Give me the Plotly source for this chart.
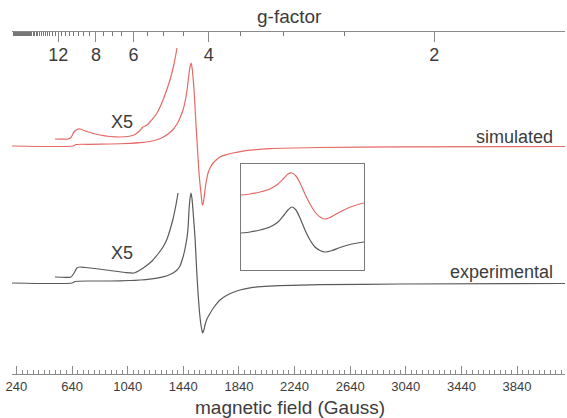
import plotly.graph_objects as go

# ---- spectra: magnetic field (G) and derivative intensity (a.u.) ----
sim_field = [208, 647, 668, 769, 913, 1057, 1130, 1200, 1250, 1294, 1330, 1366, 1395,
             1416, 1438, 1452, 1467, 1474, 1481, 1488, 1497, 1505, 1511, 1517, 1524,
             1531, 1538, 1545, 1553, 1560, 1567, 1572, 1577, 1582, 1589, 1596, 1607,
             1618, 1636, 1654, 1680, 1704, 1750, 1797, 1850, 1920, 2063, 2400, 3000, 4185]
sim_int = [0, 0, 1.5, 1.7, 2, 2.6, 3.3, 4.5, 6.3, 8.7, 12, 16.5, 22,
           28, 36, 44, 56, 64, 72, 79, 83, 76, 67, 56, 40,
           22, 6, -10, -27, -38, -47, -54, -59, -58, -52, -44, -34,
           -27, -21, -17, -13.5, -11, -8.6, -7, -5.6, -4.2, -2.6, -1.5, -0.9, -0.5]

sim_x5_field = [517, 611, 632, 654, 675, 697, 726, 769, 841, 913, 985, 1042, 1085,
                1121, 1150, 1179, 1200, 1251, 1294, 1344, 1373, 1395]
sim_x5_int = [7, 7, 8.5, 14, 16.5, 17, 15.5, 13.5, 11, 9.5, 9, 9.5, 11,
              14.5, 19, 21, 24, 33, 46, 66, 82, 98]

exp_field = [208, 640, 661, 769, 913, 1057, 1130, 1200, 1250, 1300, 1340, 1366, 1395,
             1416, 1438, 1452, 1467, 1474, 1481, 1488, 1495, 1502, 1510, 1524, 1536,
             1545, 1555, 1565, 1572, 1579, 1588, 1596, 1610, 1632, 1661, 1704, 1750,
             1800, 1848, 1920, 2000, 2135, 2423, 2998, 4185]
exp_int = [0, 0, 1.5, 2, 2, 2.5, 3, 3.8, 4.8, 6.3, 8.3, 10, 13,
           17, 26, 34, 46, 55, 73, 84, 90, 85, 72, 46, 13,
           -8, -27, -40, -46, -50, -47, -42, -36, -30.5, -24, -17, -12.5,
           -9.3, -7, -4.8, -3.6, -2.6, -1.7, -1, -0.5]

exp_x5_field = [517, 632, 654, 675, 697, 733, 805, 913, 1021, 1085, 1129, 1172, 1215,
                1258, 1294, 1323, 1344, 1366, 1387, 1402]
exp_x5_int = [6, 6, 10, 15, 16, 15.5, 14.5, 12.5, 10.5, 10, 13, 17, 22,
              29, 36, 44, 53, 64, 78, 90]

# ---- inset (g ~ 2 region) ----
inset_field = [2800, 2866, 2939, 3012, 3071, 3115, 3144, 3173, 3202, 3232, 3268, 3305,
               3341, 3378, 3415, 3451, 3510, 3568, 3634, 3700]
inset_sim = [75, 76, 78, 81, 86, 92, 96, 97, 94, 87, 76, 66,
             58, 53, 51, 52.5, 57, 61, 64.5, 67]
inset_exp_field = [2800, 2866, 2939, 3012, 3071, 3115, 3144, 3173, 3202, 3232, 3268, 3305,
                   3341, 3378, 3415, 3466, 3524, 3598, 3700]
inset_exp = [37, 38, 40, 43, 48, 55, 60, 63, 60, 52, 40, 30,
             23, 19.5, 18, 19.5, 22.5, 25.5, 28]

# ---- axes ticks ----
field_ticks = [240, 640, 1040, 1440, 1840, 2240, 2640, 3040, 3440, 3840]
g_labels = [2, 4, 6, 8, 12]
g_minor = [x / 2 for x in range(5, 61) if x / 2 not in g_labels]
G_CONST = 6490.0  # g * B (Gauss) for the microwave frequency used

SIM_OFFSET = 228
EXP_OFFSET = 91

RED = "#e36a66"
DARK = "#5a5a5a"
AXIS = "#8a8a8a"
TEXT = "#3c3c3c"
FONT = "Liberation Sans, Arial, sans-serif"

fig = go.Figure()

def add(x, y, off, color, xa="x", ya="y"):
    fig.add_trace(go.Scatter(x=x, y=[v + off for v in y], mode="lines",
                             line=dict(color=color, width=1.2, shape="spline", smoothing=0.6),
                             xaxis=xa, yaxis=ya, showlegend=False, hoverinfo="skip"))

add(sim_field, sim_int, SIM_OFFSET, RED)
add(sim_x5_field, sim_x5_int, SIM_OFFSET, RED)
add(exp_field, exp_int, EXP_OFFSET, DARK)
add(exp_x5_field, exp_x5_int, EXP_OFFSET, DARK)
add(inset_field, inset_sim, 0, RED, "x3", "y3")
add(inset_exp_field, inset_exp, 0, DARK, "x3", "y3")

# invisible trace to activate the g-factor axis
fig.add_trace(go.Scatter(x=[1000], y=[0], mode="markers", marker=dict(opacity=0),
                         xaxis="x2", yaxis="y", showlegend=False, hoverinfo="skip"))

xr = [208, 4185]
L, R, T, B = 12, 2, 32, 44
W, H = 567, 418

fig.update_layout(
    width=W, height=H,
    margin=dict(l=L, r=R, t=T, b=B),
    paper_bgcolor="white", plot_bgcolor="white",
    font=dict(family=FONT, color=TEXT),
    xaxis=dict(range=xr, showgrid=False, zeroline=False, showline=True,
               linecolor=AXIS, linewidth=1.3,
               ticks="inside", ticklen=8, tickcolor=AXIS, tickwidth=1,
               tickmode="array", tickvals=field_ticks,
               ticktext=[str(v) for v in field_ticks],
               tickfont=dict(size=13, color=TEXT, family=FONT),
               minor=dict(dtick=40, tick0=240, ticks="inside", ticklen=4,
                          tickcolor=AXIS, tickwidth=1, showgrid=False)),
    xaxis2=dict(range=xr, overlaying="x", side="top", anchor="y",
                showgrid=False, zeroline=False, showline=True,
                linecolor=AXIS, linewidth=1.3,
                ticks="inside", ticklen=10, tickcolor=AXIS, tickwidth=1,
                tickmode="array", tickvals=[G_CONST / g for g in g_labels],
                ticktext=[str(g) for g in g_labels],
                ticklabelposition="inside", ticklabelstandoff=7,
                tickfont=dict(size=18, color=TEXT, family=FONT),
                minor=dict(tickmode="array", tickvals=[G_CONST / g for g in g_minor],
                           ticks="inside", ticklen=4, tickcolor="#777777", tickwidth=1,
                           showgrid=False)),
    yaxis=dict(range=[0, 342], visible=False, showgrid=False, zeroline=False),
    xaxis3=dict(domain=[(241 - L) / 553, (364 - L) / 553], anchor="y3",
                range=[2800, 3700], showgrid=False, zeroline=False,
                showticklabels=False, ticks="", showline=True, mirror=True,
                linecolor="#7a7a7a", linewidth=1.2),
    yaxis3=dict(domain=[(374 - 270) / 342, (374 - 164) / 342], anchor="x3",
                range=[0, 106], showgrid=False, zeroline=False,
                showticklabels=False, ticks="", showline=True, mirror=True,
                linecolor="#7a7a7a", linewidth=1.2),
)

def label(text, x, y, xref, yref, xanchor="center", size=18):
    fig.add_annotation(text=text, x=x, y=y, xref=xref, yref=yref, showarrow=False,
                       xanchor=xanchor, yanchor="middle",
                       font=dict(size=size, color=TEXT, family=FONT))

label("g-factor", 0.502, 1.044, "paper", "paper", size=19)
label("magnetic field (Gauss)", 0.502, -0.0965, "paper", "paper", size=19)
label("simulated", 0.982, 237, "paper", "y", xanchor="right")
label("experimental", 0.982, 102, "paper", "y", xanchor="right")
label("X5", 1000, 252, "x", "y")
label("X5", 1000, 121, "x", "y")

fig.write_html("out.html")
